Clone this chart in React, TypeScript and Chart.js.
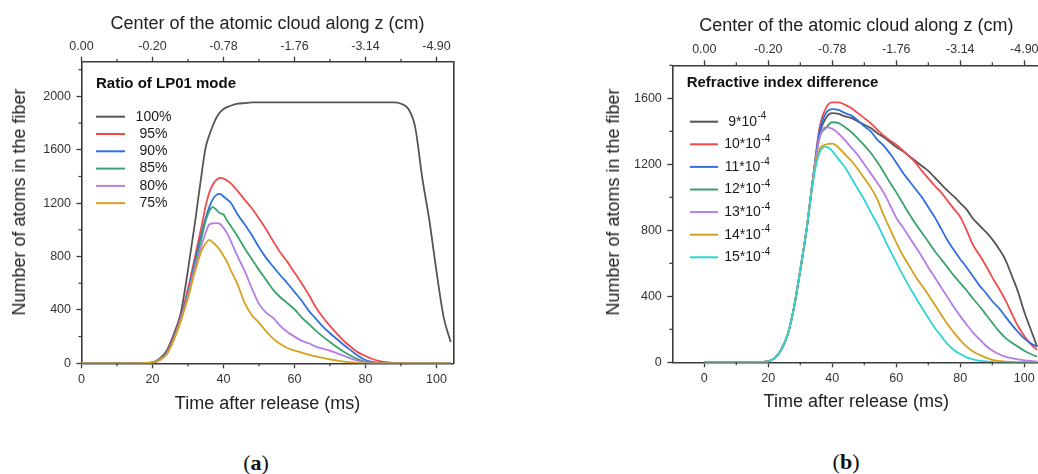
import React, { useEffect, useRef } from 'react';
import { Chart, registerables } from 'chart.js';

Chart.register(...registerables);

const FONT = "'Liberation Sans', Arial, Helvetica, sans-serif";
const AXIS = '#3a3a3a';

// ---------- Panel (a): ratio of LP01 mode ----------
const timeA = [0, 4, 8, 12, 16, 18, 20, 22, 24, 26, 28, 30, 32, 34, 35, 36, 37, 38, 39, 40, 41, 42, 44, 46, 48, 50, 52, 54, 56, 58, 60, 62, 64, 66, 68, 70, 72, 74, 76, 78, 80, 82, 84, 86, 88, 90, 92, 94, 96, 98, 100, 102, 104];
const lp100 = [0, 0, 0, 0, 0, 2, 6, 35, 95, 220, 380, 700, 1060, 1450, 1620, 1710, 1780, 1840, 1880, 1905, 1920, 1930, 1945, 1950, 1955, 1955, 1955, 1955, 1955, 1955, 1955, 1955, 1955, 1955, 1955, 1955, 1955, 1955, 1955, 1955, 1955, 1955, 1955, 1955, 1955, 1945, 1910, 1770, 1390, 1070, 690, 350, 160];
const lp95 = [0, 0, 0, 0, 0, 2, 5, 28, 80, 200, 350, 560, 800, 1050, 1180, 1280, 1340, 1375, 1390, 1385, 1370, 1350, 1290, 1225, 1160, 1085, 1005, 915, 830, 760, 680, 600, 515, 420, 345, 280, 220, 165, 120, 80, 55, 32, 16, 8, 3, 1, 0, 0, 0, 0, 0, 0, 0];
const lp90 = [0, 0, 0, 0, 0, 2, 5, 28, 75, 190, 340, 530, 770, 990, 1090, 1170, 1230, 1262, 1270, 1250, 1228, 1205, 1115, 1040, 960, 870, 790, 725, 660, 600, 535, 470, 395, 335, 275, 225, 180, 135, 95, 55, 25, 10, 3, 0, 0, 0, 0, 0, 0, 0, 0, 0, 0];
const lp85 = [0, 0, 0, 0, 0, 2, 5, 25, 70, 180, 330, 520, 740, 960, 1070, 1140, 1170, 1150, 1125, 1115, 1070, 1030, 950, 860, 780, 700, 625, 550, 495, 450, 405, 345, 295, 245, 200, 160, 120, 85, 55, 30, 12, 4, 0, 0, 0, 0, 0, 0, 0, 0, 0, 0, 0];
const lp80 = [0, 0, 0, 0, 0, 2, 5, 25, 70, 180, 330, 510, 720, 900, 980, 1040, 1048, 1050, 1045, 1015, 975, 920, 800, 690, 560, 445, 380, 340, 280, 235, 200, 170, 150, 125, 110, 95, 75, 55, 35, 18, 8, 2, 0, 0, 0, 0, 0, 0, 0, 0, 0, 0, 0];
const lp75 = [0, 0, 0, 0, 0, 2, 5, 25, 70, 175, 320, 490, 690, 855, 900, 925, 905, 880, 850, 805, 760, 700, 590, 450, 360, 305, 240, 185, 145, 115, 95, 80, 65, 52, 40, 30, 20, 12, 6, 2, 0, 0, 0, 0, 0, 0, 0, 0, 0, 0, 0, 0, 0];
const seriesA = [lp100, lp95, lp90, lp85, lp80, lp75];
const labelsA = ['100%', '95%', '90%', '85%', '80%', '75%'];
const colorsA = ['#555555', '#f24b4b', '#2f6fdf', '#3aa36a', '#b47de6', '#d6a11c'];

// ---------- Panel (b): refractive index difference ----------
const timeB = [0, 4, 8, 12, 16, 18, 20, 22, 24, 26, 28, 30, 32, 34, 36, 38, 40, 42, 44, 46, 48, 50, 52, 54, 56, 58, 60, 62, 64, 66, 68, 70, 72, 74, 76, 78, 80, 82, 84, 86, 88, 90, 92, 94, 96, 98, 100, 102, 104];
const dn9 = [0, 0, 0, 0, 0, 2, 6, 25, 75, 165, 330, 560, 810, 1110, 1380, 1480, 1510, 1505, 1490, 1480, 1460, 1440, 1420, 1390, 1365, 1335, 1305, 1280, 1250, 1220, 1190, 1160, 1120, 1080, 1040, 1005, 965, 925, 870, 830, 790, 745, 690, 625, 530, 430, 305, 200, 95];
const dn10 = [0, 0, 0, 0, 0, 2, 6, 25, 75, 165, 330, 560, 810, 1120, 1420, 1540, 1575, 1575, 1560, 1540, 1510, 1480, 1450, 1410, 1375, 1345, 1318, 1285, 1250, 1210, 1160, 1115, 1070, 1030, 980, 930, 880, 800, 710, 650, 585, 515, 450, 380, 300, 220, 160, 110, 75];
const dn11 = [0, 0, 0, 0, 0, 2, 6, 25, 75, 165, 330, 560, 810, 1120, 1400, 1510, 1535, 1530, 1510, 1495, 1465, 1430, 1400, 1350, 1315, 1265, 1210, 1150, 1100, 1050, 1000, 940, 880, 810, 740, 680, 625, 575, 520, 465, 420, 370, 330, 280, 230, 185, 145, 115, 95];
const dn12 = [0, 0, 0, 0, 0, 2, 6, 25, 75, 165, 330, 560, 810, 1120, 1360, 1420, 1455, 1450, 1425, 1395, 1355, 1315, 1270, 1215, 1155, 1090, 1030, 965, 900, 840, 785, 730, 675, 625, 575, 525, 480, 435, 385, 340, 290, 240, 190, 150, 120, 95, 70, 50, 35];
const dn13 = [0, 0, 0, 0, 0, 2, 6, 25, 75, 165, 330, 560, 810, 1120, 1360, 1425, 1415, 1385, 1345, 1300, 1255, 1200, 1145, 1090, 1030, 955, 875, 820, 760, 700, 640, 575, 515, 455, 395, 335, 280, 228, 180, 140, 100, 72, 50, 35, 25, 18, 12, 8, 5];
const dn14 = [0, 0, 0, 0, 0, 2, 6, 25, 75, 165, 330, 560, 810, 1110, 1290, 1320, 1325, 1300, 1260, 1220, 1170, 1115, 1060, 990, 895, 810, 725, 650, 585, 520, 465, 410, 350, 290, 230, 180, 135, 95, 65, 45, 28, 15, 8, 4, 2, 0, 0, 0, 0];
const dn15 = [0, 0, 0, 0, 0, 2, 6, 25, 75, 165, 330, 560, 810, 1100, 1270, 1307, 1280, 1230, 1180, 1115, 1050, 985, 910, 840, 760, 680, 605, 530, 460, 395, 330, 270, 210, 160, 110, 75, 50, 30, 18, 10, 5, 2, 0, 0, 0, 0, 0, 0, 0];
const seriesB = [dn9, dn10, dn11, dn12, dn13, dn14, dn15];
const labelsB = ['9*10⁻⁴', '10*10⁻⁴', '11*10⁻⁴', '12*10⁻⁴', '13*10⁻⁴', '14*10⁻⁴', '15*10⁻⁴'];
const colorsB = ['#555555', '#f24b4b', '#2f6fdf', '#3aa36a', '#b47de6', '#d6a11c', '#2ed3d3'];

// ---------- Axes ----------
const xMajor = [0, 20, 40, 60, 80, 100];
const xMinor = [10, 30, 50, 70, 90];
const topTickLabels = ['0.00', '-0.20', '-0.78', '-1.76', '-3.14', '-4.90'];
const yMajorA = [0, 400, 800, 1200, 1600, 2000];
const yMinorA = [200, 600, 1000, 1400, 1800, 2200];
const yMajorB = [0, 400, 800, 1200, 1600];
const yMinorB = [200, 600, 1000, 1400, 1800];

const xTitle = 'Time after release (ms)';
const topTitle = 'Center of the atomic cloud along z (cm)';
const yTitle = 'Number of atoms in the fiber';
const legendTitleA = 'Ratio of LP01 mode';
const legendTitleB = 'Refractive index difference';

const SUP_MAP: Record<string, string> = { '⁻': '-', '⁰': '0', '¹': '1', '²': '2', '³': '3', '⁴': '4', '⁵': '5', '⁶': '6', '⁷': '7', '⁸': '8', '⁹': '9' };

function splitSup(label: string) {
  const m = label.match(/[⁻⁰¹²³⁴⁵⁶⁷⁸⁹]+$/);
  if (!m) return { base: label, sup: '' };
  const sup = m[0].split('').map((c) => SUP_MAP[c] || c).join('');
  return { base: label.slice(0, label.length - m[0].length), sup };
}

function minorTickPlugin(id: string, minors: Record<string, number[]>) {
  return {
    id,
    afterDraw(chart: any) {
      const ctx = chart.ctx;
      ctx.save();
      ctx.strokeStyle = AXIS;
      ctx.lineWidth = 1.2;
      Object.keys(minors).forEach((sid) => {
        const sc = chart.scales[sid];
        if (!sc) return;
        minors[sid].forEach((v) => {
          ctx.beginPath();
          if (sc.isHorizontal()) {
            const px = sc.getPixelForValue(v);
            if (sc.position === 'top') {
              ctx.moveTo(px, sc.bottom);
              ctx.lineTo(px, sc.bottom - 3);
            } else {
              ctx.moveTo(px, sc.top);
              ctx.lineTo(px, sc.top + 3);
            }
          } else {
            const py = sc.getPixelForValue(v);
            ctx.moveTo(sc.right, py);
            ctx.lineTo(sc.right - 3, py);
          }
          ctx.stroke();
        });
      });
      ctx.restore();
    },
  };
}

function legendPlugin(id: string, cfg: any) {
  return {
    id,
    afterDraw(chart: any) {
      const { ctx, chartArea } = chart;
      ctx.save();
      ctx.textBaseline = 'middle';
      ctx.textAlign = 'left';
      ctx.fillStyle = '#111';
      ctx.font = `bold ${cfg.titleSize}px ${FONT}`;
      ctx.fillText(cfg.title, chartArea.left + cfg.titleDx, chartArea.top + cfg.titleDy);
      chart.data.datasets.forEach((ds: any, i: number) => {
        const y = chartArea.top + cfg.rowDy + i * cfg.rowGap;
        const x0 = chartArea.left + cfg.lineDx;
        ctx.strokeStyle = ds.borderColor;
        ctx.lineWidth = 2;
        ctx.beginPath();
        ctx.moveTo(x0, y);
        ctx.lineTo(x0 + cfg.lineLen, y);
        ctx.stroke();
        const { base, sup } = splitSup(ds.label);
        ctx.font = `${cfg.textSize}px ${FONT}`;
        const wb = ctx.measureText(base).width;
        let ws = 0;
        if (sup) {
          ctx.font = `${cfg.supSize}px ${FONT}`;
          ws = ctx.measureText(sup).width;
        }
        const tx = chartArea.left + cfg.textCx - (wb + ws) / 2;
        ctx.fillStyle = '#1a1a1a';
        ctx.font = `${cfg.textSize}px ${FONT}`;
        ctx.fillText(base, tx, y);
        if (sup) {
          ctx.font = `${cfg.supSize}px ${FONT}`;
          ctx.fillText(sup, tx + wb + 0.5, y - 5);
        }
      });
      ctx.restore();
    },
  };
}

function buildOptions(p: any) {
  const grid = { display: true, drawOnChartArea: false, drawTicks: true, tickLength: 5, tickWidth: 1.3, tickColor: AXIS };
  const border = { display: true, color: AXIS, width: 1.6 };
  const tickFont = { family: FONT, size: 12.5 };
  return {
    responsive: false,
    animation: false,
    devicePixelRatio: 1,
    layout: { padding: 0 },
    plugins: { legend: { display: false }, tooltip: { enabled: false } },
    elements: { point: { radius: 0 } },
    scales: {
      x: {
        type: 'linear',
        position: 'bottom',
        min: p.xMin,
        max: p.xMax,
        grid,
        border,
        afterBuildTicks: (s: any) => { s.ticks = xMajor.map((v) => ({ value: v })); },
        afterFit: (s: any) => { s.height = p.bottomH; },
        ticks: { font: tickFont, color: '#333', padding: 4, maxRotation: 0, autoSkip: false, callback: (v: any) => String(v) },
        title: { display: true, text: xTitle, color: '#222', font: { family: FONT, size: 18 }, padding: { top: 0, bottom: p.bottomPad } },
      },
      x2: {
        type: 'linear',
        position: 'top',
        min: p.xMin,
        max: p.xMax,
        grid,
        border,
        afterBuildTicks: (s: any) => { s.ticks = xMajor.map((v) => ({ value: v })); },
        afterFit: (s: any) => { s.height = p.topH; },
        ticks: { font: tickFont, color: '#333', padding: 3, maxRotation: 0, autoSkip: false, callback: (v: any) => { const i = xMajor.indexOf(Number(v)); return i >= 0 ? topTickLabels[i] : ''; } },
        title: { display: true, text: topTitle, color: '#222', font: { family: FONT, size: 18 }, padding: { top: p.topPad, bottom: 0 } },
      },
      y: {
        type: 'linear',
        position: 'left',
        min: 0,
        max: p.yMax,
        grid,
        border,
        afterBuildTicks: (s: any) => { s.ticks = p.yMajor.map((v: number) => ({ value: v })); },
        afterFit: (s: any) => { s.width = p.leftW; },
        ticks: { font: tickFont, color: '#333', padding: 5.5, autoSkip: false, callback: (v: any) => String(v) },
      },
      y2: {
        type: 'linear',
        position: 'right',
        min: 0,
        max: p.yMax,
        grid: { display: false },
        border,
        ticks: { display: false },
        afterFit: (s: any) => { s.width = p.rightW; },
      },
    },
  };
}

function makeDatasets(time: number[], series: number[][], labels: string[], colors: string[]) {
  return series.map((vals, i) => ({
    label: labels[i],
    data: time.map((t, j) => ({ x: t, y: vals[j] })),
    borderColor: colors[i],
    backgroundColor: colors[i],
    borderWidth: 1.8,
    pointRadius: 0,
    fill: false,
    cubicInterpolationMode: 'monotone',
    order: series.length - i,
  }));
}

const yTitleStyle = (cx: number, cy: number): React.CSSProperties => ({
  position: 'absolute',
  left: cx,
  top: cy,
  transform: 'translate(-50%, -50%) rotate(-90deg)',
  whiteSpace: 'nowrap',
  fontFamily: FONT,
  fontSize: 18,
  lineHeight: '20px',
  color: '#222',
});

const panelLabelStyle = (cx: number, cy: number): React.CSSProperties => ({
  position: 'absolute',
  left: cx,
  top: cy,
  transform: 'translate(-50%, -50%)',
  whiteSpace: 'nowrap',
  fontFamily: "'Liberation Serif', 'DejaVu Serif', serif",
  fontSize: 22,
  lineHeight: '24px',
  color: '#111',
});

export default function App() {
  const refA = useRef<HTMLCanvasElement>(null);
  const refB = useRef<HTMLCanvasElement>(null);

  useEffect(() => {
    Chart.defaults.font.family = FONT;
    const chartA = new Chart(refA.current as HTMLCanvasElement, {
      type: 'line',
      data: { datasets: makeDatasets(timeA, seriesA, labelsA, colorsA) as any },
      options: buildOptions({ xMin: 0, xMax: 104.8, yMax: 2260, leftW: 81.5, rightW: 66.5, topH: 61.7, bottomH: 56.7, topPad: 12.8, bottomPad: 5.2, yMajor: yMajorA }) as any,
      plugins: [
        minorTickPlugin('minorA', { x: xMinor, x2: xMinor, y: yMinorA }),
        legendPlugin('legendA', { title: legendTitleA, titleSize: 15, titleDx: 14.5, titleDy: 22, rowDy: 55, rowGap: 17.3, lineDx: 14.5, lineLen: 29, textCx: 72, textSize: 14, supSize: 10 }),
      ],
    });
    const chartB = new Chart(refB.current as HTMLCanvasElement, {
      type: 'line',
      data: { datasets: makeDatasets(timeB, seriesB, labelsB, colorsB) as any },
      options: buildOptions({ xMin: -10, xMax: 105, yMax: 1800, leftW: 152.3, rightW: 9.7, topH: 65.3, bottomH: 57.7, topPad: 15.5, bottomPad: 7.5, yMajor: yMajorB }) as any,
      plugins: [
        minorTickPlugin('minorB', { x: xMinor, x2: xMinor, y: yMinorB }),
        legendPlugin('legendB', { title: legendTitleB, titleSize: 15, titleDx: 14.4, titleDy: 17.4, rowDy: 56.4, rowGap: 22.6, lineDx: 17.7, lineLen: 28, textCx: 74.7, textSize: 14, supSize: 10 }),
      ],
    });
    return () => {
      chartA.destroy();
      chartB.destroy();
    };
  }, []);

  return (
    <div style={{ position: 'absolute', left: 0, top: 0, width: 1038, height: 474, overflow: 'hidden', background: '#fff' }}>
      <canvas ref={refA} width={520} height={420} style={{ position: 'absolute', left: 0, top: 0, width: 520, height: 420 }} />
      <canvas ref={refB} width={530} height={420} style={{ position: 'absolute', left: 520, top: 0, width: 530, height: 420 }} />
      <div style={yTitleStyle(19.3, 202)}>{yTitle}</div>
      <div style={yTitleStyle(612.5, 202)}>{yTitle}</div>
      <div style={panelLabelStyle(256, 463)}>(<b>a</b>)</div>
      <div style={panelLabelStyle(846, 461.5)}>(<b>b</b>)</div>
    </div>
  );
}
